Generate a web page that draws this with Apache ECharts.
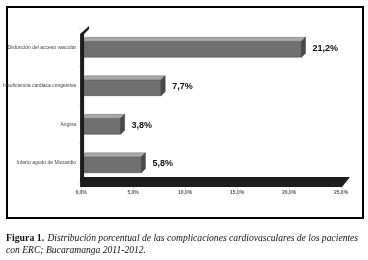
<!DOCTYPE html>
<html>
<head>
<meta charset="utf-8">
<script src="https://cdn.jsdelivr.net/npm/echarts@6/dist/echarts.min.js"></script>
<style>
  html, body { margin: 0; padding: 0; background: #fff; }
  #chart { width: 368px; height: 260px; }
</style>
</head>
<body>
<div id="chart"></div>
<script>
// datos
var categorias = ['Infarto agudo de Miocardio', 'Angina', 'Insuficiencia cardiaca congestiva', 'Disfunción del acceso vascular']
var porcentajes = [5.8, 3.8, 7.7, 21.2]
var etiquetasX = ['0,0%', '5,0%', '10,0%', '15,0%', '20,0%', '25,0%']

var gridTop = 28, gridBottom = 78
var myChart = echarts.init(document.getElementById('chart'))

// barra 3D: cara frontal + cara superior + extremo derecho
function renderBarra(params, api) {
    var idx = api.value(0)
    var val = api.value(1)
    var ini = api.coord([0, idx])
    var fin = api.coord([val, idx])
    var alto = api.size([0, 1])[1] * 0.41
    var d = 4
    var y0 = ini[1] - alto / 2 + d / 2
    var y1 = ini[1] + alto / 2 + d / 2
    var x0 = ini[0]
    var x1 = fin[0]
    return {
        type: 'group',
        children: [
            { type: 'rect', shape: { x: x0, y: y0, width: x1 - x0, height: y1 - y0 },
              style: { fill: '#707070', stroke: '#505050', lineWidth: 0.6 } },
            { type: 'polygon', shape: { points: [[x0, y0], [x1, y0], [x1 + d, y0 - d], [x0 + d, y0 - d]] },
              style: { fill: '#a8a8a8', stroke: '#6a6a6a', lineWidth: 0.5 } },
            { type: 'polygon', shape: { points: [[x1, y0], [x1 + d, y0 - d], [x1 + d, y1 - d], [x1, y1]] },
              style: { fill: '#4a4a4a', stroke: '#3a3a3a', lineWidth: 0.5 } },
            { type: 'text', x: x1 + d + 7, y: ini[1] + 1,
              style: { text: String(val.toFixed(1)).replace('.', ',') + '%', fill: '#111',
                       font: 'bold 9px "Liberation Sans", Arial', verticalAlign: 'middle' } }
        ]
    }
}

var marco = [
    { type: 'rect', shape: { x: 7, y: 7, width: 356, height: 211 },
      style: { fill: 'none', stroke: '#000', lineWidth: 2 } },
    { type: 'text', left: 6, top: 232,
      style: {
          text: '{b|Figura 1.} {i|Distribución porcentual de las complicaciones cardiovasculares de los pacientes}\n{i|con ERC; Bucaramanga 2011-2012.}',
          rich: {
              b: { font: 'bold 9.8px "Liberation Serif", serif', fill: '#111', lineHeight: 12 },
              i: { font: 'italic 9.6px "Liberation Serif", serif', fill: '#111', lineHeight: 12 }
          }
      } }
]

var option = {
    animation: false,
    grid: { left: 81, right: 27, top: gridTop, bottom: gridBottom },
    xAxis: {
        type: 'value',
        min: 0,
        max: 25,
        interval: 5,
        axisLine: { show: false },
        axisTick: { show: true, length: 7, lineStyle: { color: '#aaa', width: 0.5 } },
        splitLine: { show: false },
        axisLabel: {
            margin: 8,
            fontSize: 5,
            fontWeight: 'bold',
            color: '#555',
            fontFamily: 'Liberation Sans',
            formatter: function (v) { return etiquetasX[v / 5] }
        }
    },
    yAxis: {
        type: 'category',
        data: categorias,
        axisLine: { show: false },
        axisTick: { show: true, length: 2, lineStyle: { color: '#aaa', width: 0.5 } },
        axisLabel: { margin: 5, fontSize: 5, color: '#444', fontFamily: 'Liberation Sans' }
    },
    series: [{
        type: 'custom',
        renderItem: renderBarra,
        encode: { x: 1, y: 0 },
        data: porcentajes.map(function (v, i) { return [i, v] }),
        z: 2
    }],
    graphic: marco
}

myChart.setOption(option)

// pared y piso oscuros, ubicados con la escala del eje x
var xa = myChart.convertToPixel({ xAxisIndex: 0 }, 0)
var xb = myChart.convertToPixel({ xAxisIndex: 0 }, 25)
var ya = gridTop - 2
var yb = 260 - gridBottom
myChart.setOption({
    graphic: marco.concat([
        { type: 'polygon', z: 10,
          shape: { points: [[xa - 1, ya + 8], [xa + 8, ya], [xa + 8, ya + 3], [xa + 3, ya + 8], [xa + 3, yb], [xa - 1, yb]] },
          style: { fill: '#1c1c1c' } },
        { type: 'polygon', z: 10,
          shape: { points: [[xa - 1, yb - 5], [xb + 9, yb - 5], [xb + 1, yb + 5], [xa - 1, yb + 5]] },
          style: { fill: '#1c1c1c' } }
    ])
})
</script>
</body>
</html>
